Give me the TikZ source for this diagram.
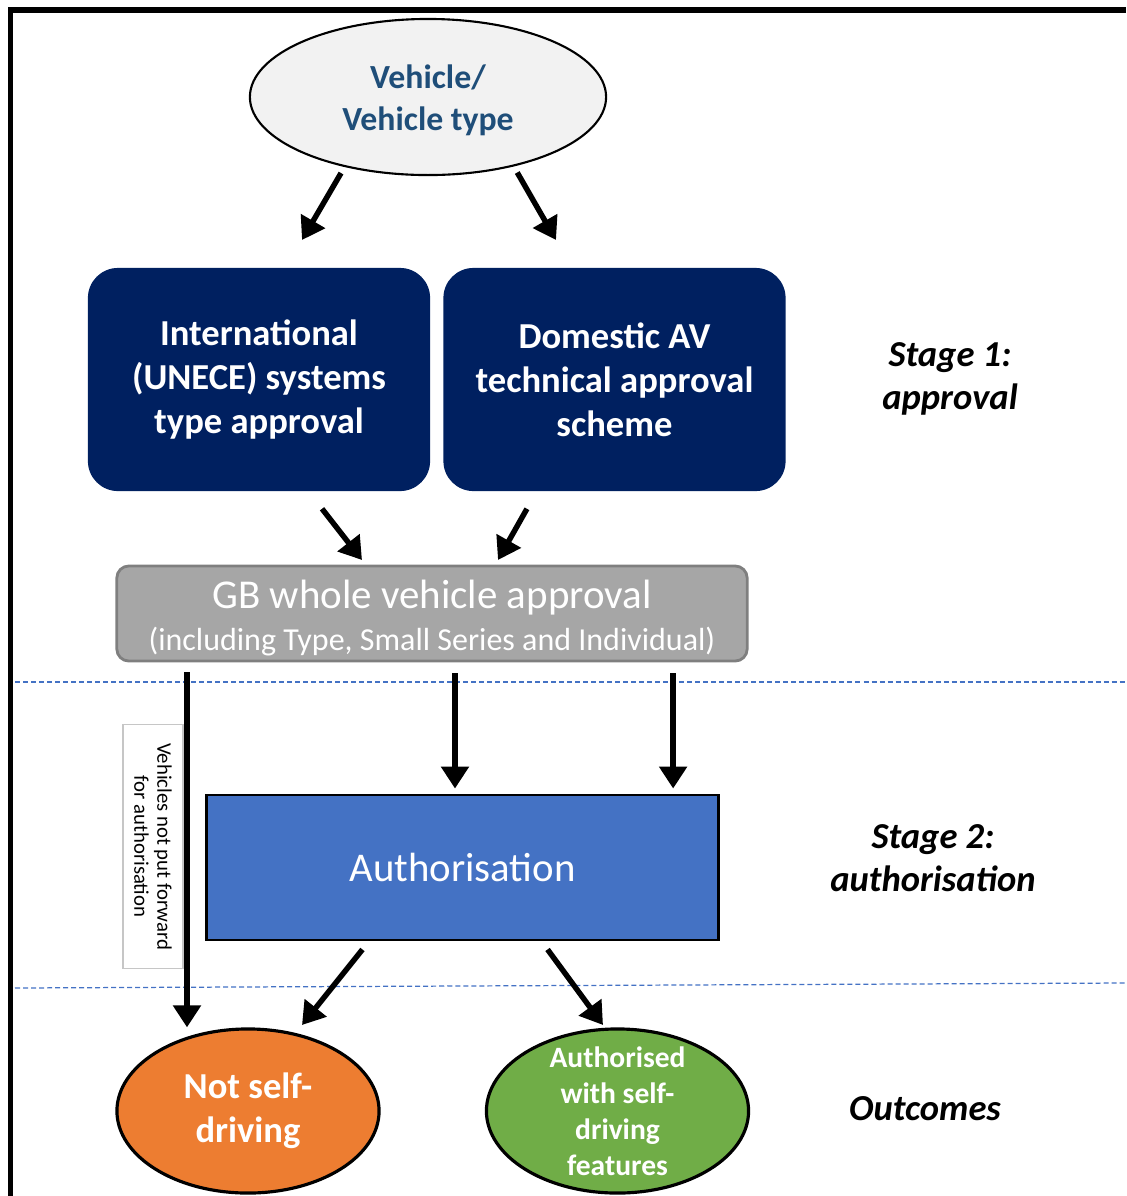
\documentclass[tikz,border=0pt]{standalone}
\usepackage{fontspec}
\setmainfont{Carlito}
\usetikzlibrary{shapes.geometric, arrows.meta, positioning}

\definecolor{navybox}{HTML}{002060}
\definecolor{vehtext}{HTML}{1F4E79}
\definecolor{vehfill}{HTML}{F2F2F2}
\definecolor{gbfill}{HTML}{A6A6A6}
\definecolor{gbline}{HTML}{7F7F7F}
\definecolor{authfill}{HTML}{4472C4}
\definecolor{orangefill}{HTML}{ED7D31}
\definecolor{greenfill}{HTML}{70AD47}

\begin{document}
\begin{tikzpicture}
  [x=0.01cm, y=-0.01cm,
   flow/.style={line width=1.55pt, -{Triangle[length=0.22cm,width=0.27cm]}},
   schemebox/.style={fill=navybox, rounded corners=0.3cm, minimum width=3.42cm,
     minimum height=2.23cm, text=white, align=center,
     font=\bfseries\fontsize{10.4}{12.5}\selectfont},
   outcome/.style={ellipse, draw=black, line width=0.9pt, inner sep=0pt,
     minimum width=2.62cm, minimum height=1.64cm},
   stagelabel/.style={align=center, font=\bfseries\itshape\fontsize{10.4}{12.3}\selectfont},
   stageline/.style={draw=authfill, line width=0.35pt, dash pattern=on 0.05cm off 0.03cm}]
  \useasboundingbox (0,0) rectangle (1126,1196);
  % frame
  \draw[line width=1.45pt] (10.5,1196) -- (10.5,10) -- (1126,10);
  % stage separators
  \draw[stageline] (15,682) -- (1126,682);
  \draw[stageline] (15,988) -- (1126,983);
  % stage 1
  \node[ellipse, draw=black, line width=0.6pt, fill=vehfill, inner sep=0pt,
    minimum width=3.56cm, minimum height=1.56cm,
    label={[yshift=-0.035cm, text=vehtext, align=center,
      font=\bfseries\fontsize{9.6}{11.9}\selectfont]center:{Vehicle/\\Vehicle type}}]
    (veh) at (428,97) {};
  \node[schemebox] (intl) at (259,379.5)
    {International\\(UNECE) systems\\type approval};
  \node[schemebox] (dom) at (614.5,379.5)
    {Domestic AV\\technical approval\\scheme};
  \node[stagelabel] (stage1) at (950,379) {Stage 1:\\approval};
  \node[fill=gbfill, draw=gbline, line width=0.8pt, rounded corners=0.12cm,
    minimum width=6.3cm, minimum height=0.95cm, inner sep=0pt,
    label={[yshift=-0.045cm, text=white, align=center]center:{{\fontsize{11.65}{12}\selectfont GB whole vehicle approval}\\{\fontsize{9.1}{12}\selectfont (including Type, Small Series and Individual)}}}]
    (gb) at (432,613.5) {};
  % stage 2
  \node[fill=authfill, draw=black, line width=0.8pt, minimum width=5.11cm,
    minimum height=1.45cm, text=white,
    font=\fontsize{11.6}{14}\selectfont] (auth) at (462.5,867.5) {Authorisation};
  \node[draw=gray!45, line width=0.3pt, rotate=-90, minimum width=2.43cm,
    minimum height=0.6cm, align=center, inner sep=0pt,
    font=\fontsize{5.9}{6.6}\selectfont] (notput) at (153,846.5)
    {Vehicles not put forward\\for authorisation};
  \node[stagelabel] (stage2) at (933,858) {Stage 2:\\authorisation};
  % outcomes
  \node[outcome, fill=orangefill,
    label={[text=white, align=center, font=\bfseries\fontsize{10.4}{12.5}\selectfont]center:{Not self-\\driving}}]
    (nsd) at (248,1111) {};
  \node[outcome, fill=greenfill,
    label={[text=white, align=center, font=\bfseries\fontsize{8.4}{10.2}\selectfont]center:{Authorised\\with self-\\driving\\features}}]
    (aws) at (617.5,1111) {};
  \node[stagelabel] (stage3) at (925,1109) {Outcomes};
  % arrow tips
  \coordinate (t1) at (302,240);
  \coordinate (t2) at (556,240);
  \coordinate (t3) at (362,560);
  \coordinate (t4) at (498,560);
  \coordinate (t5) at (302,1025);
  \coordinate (t6) at (603,1025);
  \coordinate (s1) at (187,672);
  % arrows
  \draw[flow, shorten <=0.07cm] (veh.220) -- (t1);
  \draw[flow, shorten <=0.07cm] (veh.321) -- (t2);
  \draw[flow] ([xshift=0.63cm,yshift=-0.17cm]intl.south) -- (t3);
  \draw[flow] ([xshift=-0.875cm,yshift=-0.17cm]dom.south) -- (t4);
  \draw[flow] (s1) -- (s1 |- nsd.north);
  \draw[flow] ([xshift=-0.075cm,yshift=-0.11cm]auth.north |- gb.south) -- ([xshift=-0.075cm,yshift=0.05cm]auth.north);
  \draw[flow] ([xshift=2.105cm,yshift=-0.11cm]auth.north |- gb.south) -- ([xshift=2.105cm,yshift=0.05cm]auth.north);
  \draw[flow] ([xshift=-1.0cm,yshift=-0.08cm]auth.south) -- (t5);
  \draw[flow] ([xshift=0.85cm,yshift=-0.08cm]auth.south) -- (t6);
\end{tikzpicture}
\end{document}
